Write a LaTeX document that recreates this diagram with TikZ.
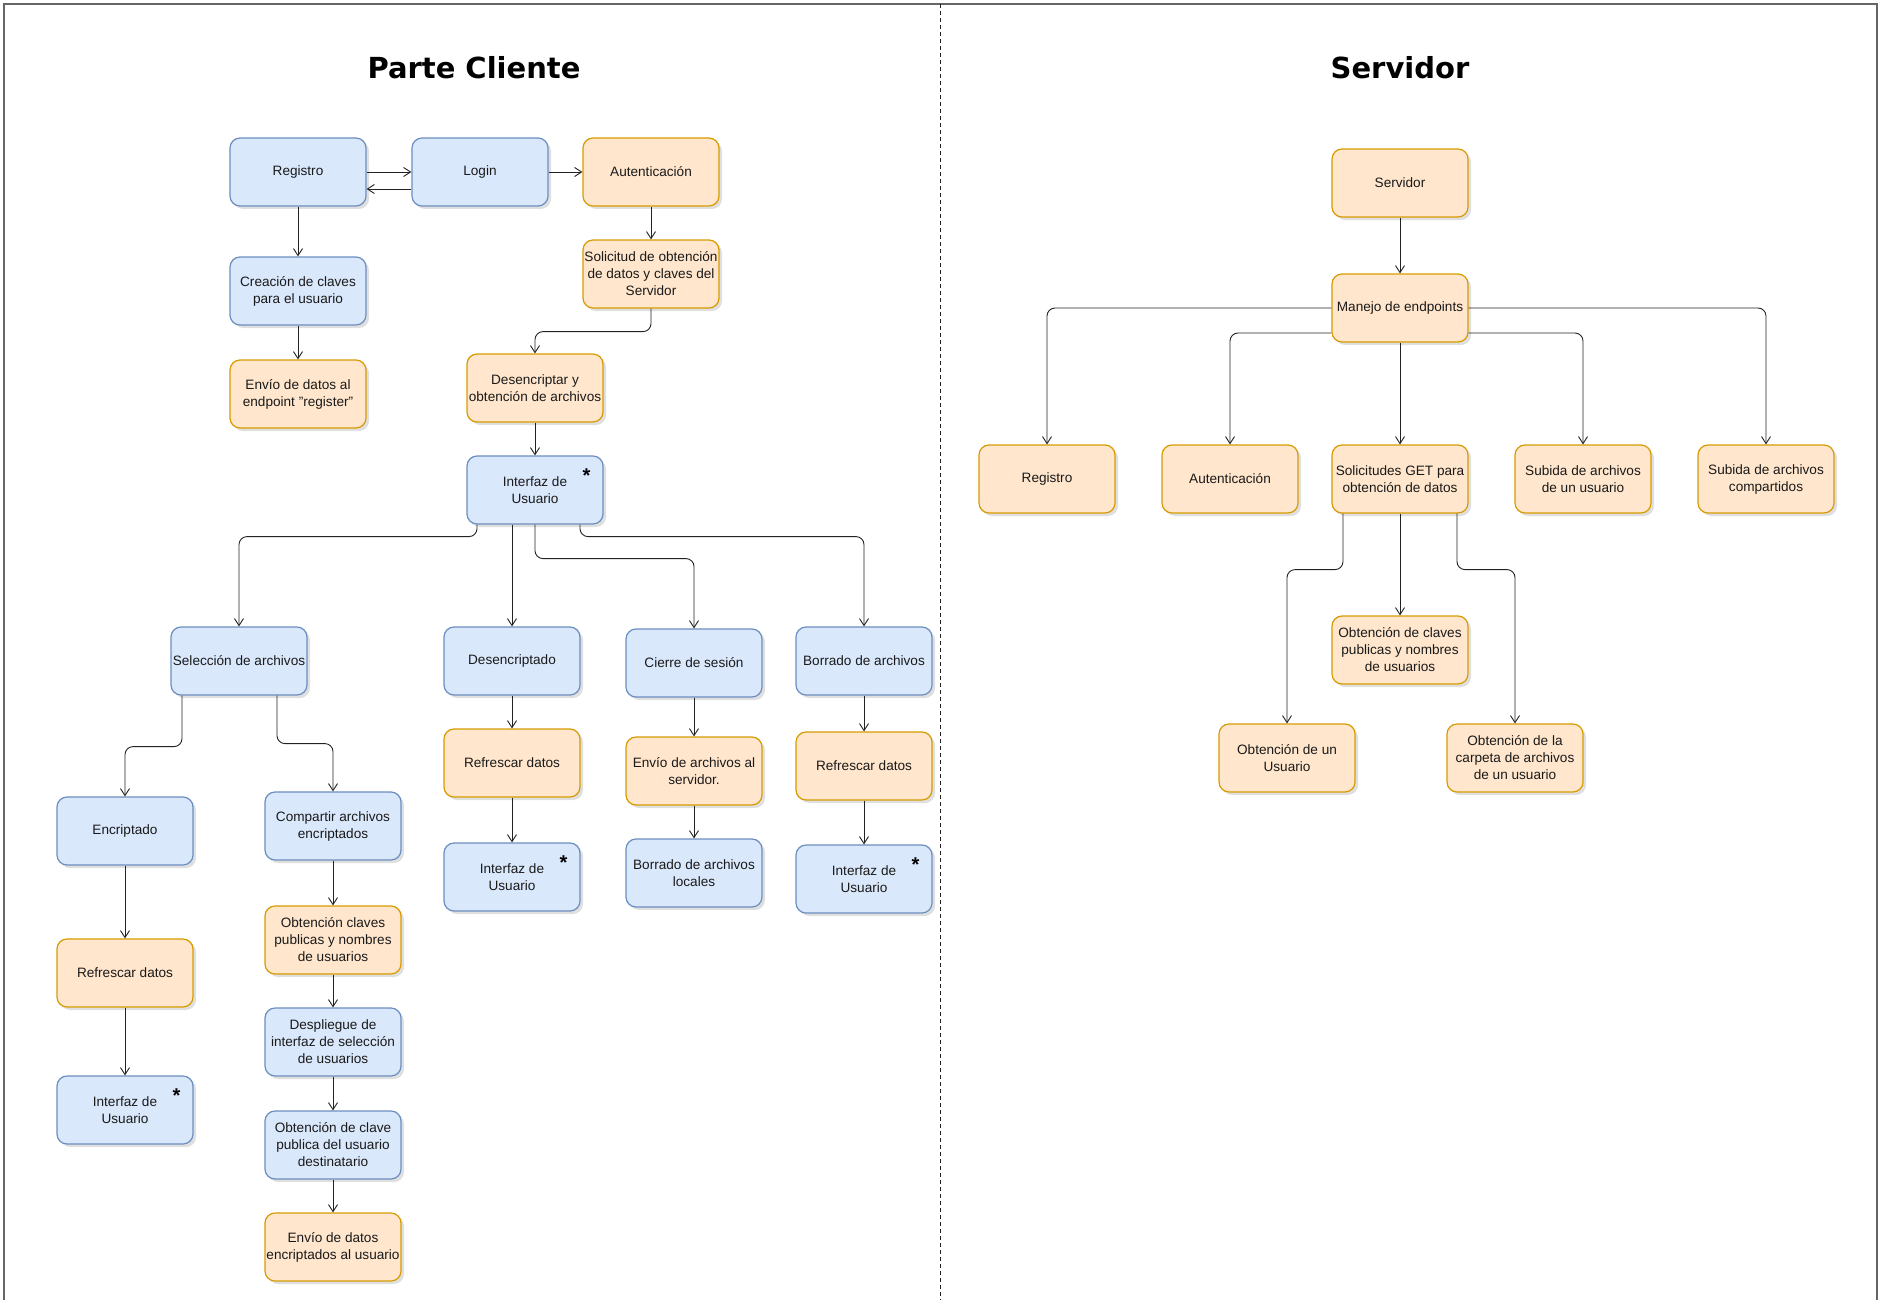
\documentclass[tikz,border=0pt]{standalone}
\usepackage{fontspec}
\setmainfont{Liberation Sans}
\newfontfamily\titlefont{DejaVu Sans}
\usetikzlibrary{arrows.meta, shadows}

\definecolor{azulfondo}{HTML}{DAE8FC}
\definecolor{azulborde}{HTML}{6C8EBF}
\definecolor{naranjafondo}{HTML}{FFE6CC}
\definecolor{naranjaborde}{HTML}{D79B00}
\definecolor{texto}{HTML}{1A1A1A}
\definecolor{linea}{HTML}{222222}
\definecolor{marco}{HTML}{666666}

\begin{document}
\begin{tikzpicture}[x=1pt, y=-1pt,
        caja/.style={rounded corners=10pt, line width=1.2pt, minimum width=136pt, minimum height=68pt,
            inner sep=1pt, align=center, text=texto, font=\fontsize{13.6}{17}\selectfont,
            drop shadow={shadow xshift=3pt, shadow yshift=-3pt, opacity=0.25}},
        azul/.style={caja, draw=azulborde, fill=azulfondo},
        naranja/.style={caja, draw=naranjaborde, fill=naranjafondo},
        flecha/.style={-{Straight Barb[length=7pt, width=9pt]}, line width=0.9pt, draw=linea, rounded corners=8pt},
        estrella/.style={inner sep=0pt, font=\bfseries\fontsize{20}{20}\selectfont},
        titulo/.style={anchor=base, font=\titlefont\bfseries\fontsize{29}{34}\selectfont}]

        \useasboundingbox (0,0) rectangle (1881,1300);
        \draw[marco, line width=1.6pt] (4,1300) -- (4,4) -- (1877,4) -- (1877,1300);
        \draw[linea, line width=0.8pt, dash pattern=on 4pt off 3pt] (940,4) -- (940,1300);

        \node[titulo] (tcliente) at (474,79) {Parte Cliente};
        \node[titulo] (tservidor) at (1400,79) {Servidor};

        \node[azul] (reg) at (298,172) {Registro};
        \node[azul] (login) at (480,172) {Login};
        \node[naranja] (aut) at (651,172) {Autenticación};
        \node[azul] (claves) at (298,291) {Creación de claves\\para el usuario};
        \node[naranja] (envreg) at (298,394) {Envío de datos al\\endpoint "register"};
        \node[naranja] (solic) at (651,274) {Solicitud de obtención\\de datos y claves del\\Servidor};
        \node[naranja] (descr) at (535,388) {Desencriptar y\\obtención de archivos};
        \node[azul] (ui) at (535,490) {Interfaz de\\Usuario};

        \node[azul] (sel) at (239,661) {Selección de archivos};
        \node[azul] (desc) at (512,661) {Desencriptado};
        \node[azul] (cierre) at (694,663) {Cierre de sesión};
        \node[azul] (borr) at (864,661) {Borrado de archivos};
        \node[naranja] (ref1) at (512,763) {Refrescar datos};
        \node[naranja] (envserv) at (694,771) {Envío de archivos al\\servidor.};
        \node[naranja] (ref2) at (864,766) {Refrescar datos};
        \node[azul] (ui1) at (512,877) {Interfaz de\\Usuario};
        \node[azul] (borrloc) at (694,873) {Borrado de archivos\\locales};
        \node[azul] (ui2) at (864,879) {Interfaz de\\Usuario};

        \node[azul] (encr) at (125,831) {Encriptado};
        \node[naranja] (ref3) at (125,973) {Refrescar datos};
        \node[azul] (ui3) at (125,1110) {Interfaz de\\Usuario};
        \node[azul] (comp) at (333,826) {Compartir archivos\\encriptados};
        \node[naranja] (obtcl) at (333,940) {Obtención claves\\publicas y nombres\\de usuarios};
        \node[azul] (despl) at (333,1042) {Despliegue de\\interfaz de selección\\de usuarios};
        \node[azul] (obtpub) at (333,1145) {Obtención de clave\\publica del usuario\\destinatario};
        \node[naranja] (envenc) at (333,1247) {Envío de datos\\encriptados al usuario};

        \node[estrella] (ui-st) at ([xshift=-17pt, yshift=-20pt]ui.north east) {*};
        \node[estrella] (ui1-st) at ([xshift=-17pt, yshift=-20pt]ui1.north east) {*};
        \node[estrella] (ui2-st) at ([xshift=-17pt, yshift=-20pt]ui2.north east) {*};
        \node[estrella] (ui3-st) at ([xshift=-17pt, yshift=-20pt]ui3.north east) {*};

        \draw[flecha] (reg.east) -- (login.west);
        \draw[flecha] ([yshift=-17pt]login.west) -- ([yshift=-17pt]reg.east);
        \draw[flecha] (login.east) -- (aut.west);
        \draw[flecha] (reg) -- (claves);
        \draw[flecha] (claves) -- (envreg);
        \draw[flecha] (aut) -- (solic);
        \draw[flecha] (solic.south) -- ++(0,23) -| (descr.north);
        \draw[flecha] (descr) -- (ui);

        \draw[flecha] ([xshift=-58pt]ui.south) -- ++(0,12) -| (sel.north);
        \draw[flecha] ([xshift=-23pt]ui.south) -- (desc.north);
        \draw[flecha] (ui.south) -- ++(0,34) -| (cierre.north);
        \draw[flecha] ([xshift=45pt]ui.south) -- ++(0,12) -| (borr.north);
        \draw[flecha] (desc) -- (ref1);
        \draw[flecha] (ref1) -- (ui1);
        \draw[flecha] (cierre) -- (envserv);
        \draw[flecha] (envserv) -- (borrloc);
        \draw[flecha] (borr) -- (ref2);
        \draw[flecha] (ref2) -- (ui2);

        \draw[flecha] ([xshift=-57pt]sel.south) -- ++(0,51) -| (encr.north);
        \draw[flecha] ([xshift=38pt]sel.south) -- ++(0,48) -| (comp.north);
        \draw[flecha] (encr) -- (ref3);
        \draw[flecha] (ref3) -- (ui3);
        \draw[flecha] (comp) -- (obtcl);
        \draw[flecha] (obtcl) -- (despl);
        \draw[flecha] (despl) -- (obtpub);
        \draw[flecha] (obtpub) -- (envenc);

        \node[naranja] (serv) at (1400,183) {Servidor};
        \node[naranja] (manejo) at (1400,308) {Manejo de endpoints};
        \node[naranja] (sreg) at (1047,479) {Registro};
        \node[naranja] (saut) at (1230,479) {Autenticación};
        \node[naranja] (sget) at (1400,479) {Solicitudes GET para\\obtención de datos};
        \node[naranja] (ssub) at (1583,479) {Subida de archivos\\de un usuario};
        \node[naranja] (ssubc) at (1766,479) {Subida de archivos\\compartidos};
        \node[naranja] (sobtcl) at (1400,650) {Obtención de claves\\publicas y nombres\\de usuarios};
        \node[naranja] (sobtus) at (1287,758) {Obtención de un\\Usuario};
        \node[naranja] (scarp) at (1515,758) {Obtención de la\\carpeta de archivos\\de un usuario};

        \draw[flecha] (serv) -- (manejo);
        \draw[flecha] (manejo.west) -| (sreg.north);
        \draw[flecha] ([yshift=-25pt]manejo.west) -| (saut.north);
        \draw[flecha] (manejo) -- (sget);
        \draw[flecha] ([yshift=-25pt]manejo.east) -| (ssub.north);
        \draw[flecha] (manejo.east) -| (ssubc.north);
        \draw[flecha] ([xshift=-57pt]sget.south) -- ++(0,56) -| (sobtus.north);
        \draw[flecha] (sget) -- (sobtcl);
        \draw[flecha] ([xshift=57pt]sget.south) -- ++(0,56) -| (scarp.north);

    \end{tikzpicture}
\end{document}
